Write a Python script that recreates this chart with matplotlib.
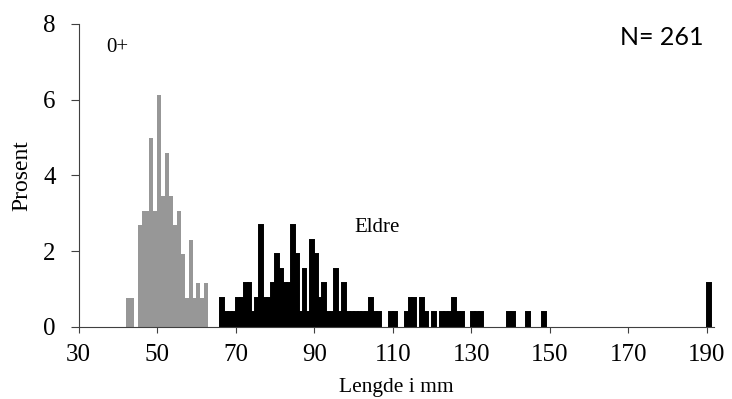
import numpy as np
from matplotlib import pyplot as plt

N = 261

# 0+ (grey), length in mm and number of fish
len_0 = [42, 43, 45, 46, 47, 48, 49, 50, 51, 52, 53, 54, 55, 56, 57, 58, 59, 60, 61, 62]
ant_0 = [2, 2, 7, 8, 8, 13, 8, 16, 9, 12, 9, 7, 8, 5, 2, 6, 2, 3, 2, 3]

# eldre (black)
len_e = [66, 67, 68, 69, 70, 71, 72, 73, 74, 75, 76, 77, 78, 79, 80, 81, 82, 83, 84, 85,
         86, 87, 88, 89, 90, 91, 92, 93, 94, 95, 96, 97, 98, 99, 100, 101, 102, 103, 104,
         105, 106, 109, 110, 113, 114, 115, 117, 118, 120, 122, 123, 124, 125, 126, 127,
         130, 131, 132, 139, 140, 144, 148, 190]
ant_e = [2, 1, 1, 1, 2, 2, 3, 3, 1, 2, 7, 2, 2, 3, 5, 4, 3, 3, 7, 5,
         1, 4, 1, 6, 5, 2, 3, 1, 1, 4, 1, 3, 1, 1, 1, 1, 1, 1, 2,
         1, 1, 1, 1, 1, 2, 2, 2, 1, 1, 1, 1, 1, 2, 1, 1,
         1, 1, 1, 1, 1, 1, 1, 3]

xticks = [30, 50, 70, 90, 110, 130, 150, 170, 190]
yticks = [0, 2, 4, 6, 8]

p_0 = np.array(ant_0) / N * 100
p_e = np.array(ant_e) / N * 100

serif = ['Liberation Serif', 'DejaVu Serif']
plt.rcParams['font.family'] = serif

fig = plt.figure(figsize=(7.32, 3.99), dpi=100)
ax = fig.add_axes([0.1075, 0.181, 0.868, 0.759])

ax.bar(len_0, p_0, width=1, align='edge', color='#979797', linewidth=0)
ax.bar(len_e, p_e, width=1, align='edge', color='black', edgecolor='black', linewidth=1.4)

ax.set_xlim(30, 191.8)
ax.set_ylim(0, 8)
ax.set_xticks(xticks)
ax.set_yticks(yticks)
ax.set_xticklabels([str(t) for t in xticks], family=serif, fontsize=18)
ax.set_yticklabels([str(t) for t in yticks], family=serif, fontsize=18)
ax.tick_params(axis='x', length=4.5, width=0.8, color='#404040', direction='out', pad=8)
ax.tick_params(axis='y', length=5.5, width=0.8, color='#404040', direction='out', pad=11)
for s in ['top', 'right']:
    ax.spines[s].set_visible(False)
for s in ['left', 'bottom']:
    ax.spines[s].set_color('#404040')
    ax.spines[s].set_linewidth(0.8)

ax.set_ylabel('Prosent', fontsize=17, labelpad=8)
ax.set_xlabel('Lengde i mm', fontsize=15.5, labelpad=8.5)

ax.text(39.9, 7.39, '0+', fontsize=15, ha='center', va='center')
ax.text(106.1, 2.61, 'Eldre', fontsize=15, ha='center', va='center')
ax.text(178.6, 7.63, 'N= 261', fontsize=18, ha='center', va='center', family='Lato')

fig.savefig('out.png', dpi=100)
